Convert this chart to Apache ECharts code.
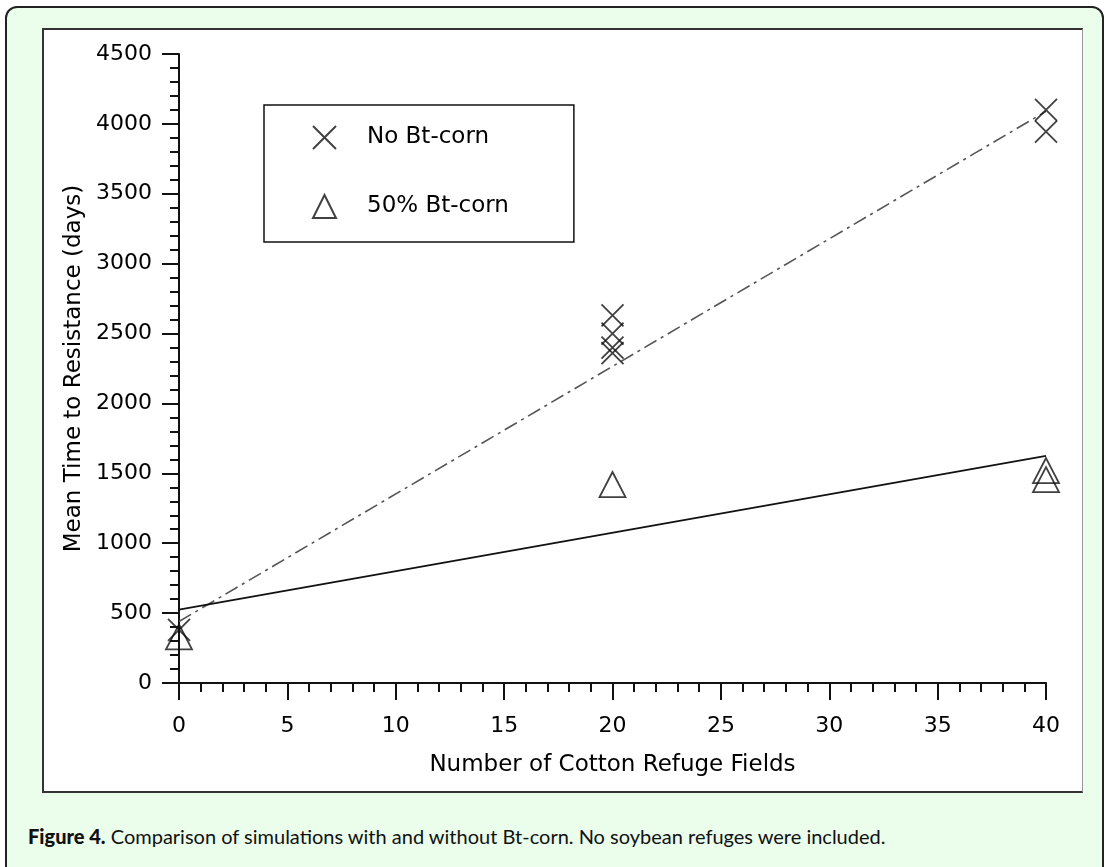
<!DOCTYPE html>
<html>
<head>
<meta charset="utf-8">
<script src="https://cdn.jsdelivr.net/npm/echarts@6/dist/echarts.min.js"></script>
<style>
  html, body { margin: 0; padding: 0; width: 1109px; height: 867px; overflow: hidden; background: #ffffff; }
  #frame { position: absolute; left: 5px; top: 6px; width: 1099px; height: 920px; background: #ebfdeb;
           border: 2px solid #222; border-radius: 12px; box-sizing: border-box; }
  #panel { position: absolute; left: 42px; top: 28px; width: 1041px; height: 765px; background: #fff;
           border-left: 2px solid #333; border-top: 2px solid #333; border-bottom: 2px solid #333; border-right: 1.5px solid #999; box-sizing: border-box; }
  #caption { position: absolute; left: 28px; top: 824px; font-family: Lato, "Open Sans", sans-serif; font-size: 20px; color: #111; white-space: nowrap; }
  #caption b { font-weight: 900; }
  #chart { position: absolute; left: 0; top: 0; width: 1109px; height: 867px; }
</style>
</head>
<body>
<div id="frame"></div>
<div id="panel"></div>
<div id="caption"><b>Figure 4.</b> Comparison of simulations with and without Bt-corn. No soybean refuges were included.</div>
<div id="chart"></div>
<script>
// ---- data ----
const noBtX = [0, 20, 20, 20, 20, 40, 40];
const noBtY = [380, 2630, 2500, 2400, 2360, 4100, 3945];
const bt50X = [0, 20, 40, 40];
const bt50Y = [330, 1420, 1520, 1455];
const fitX = [0, 40];
const noBtFitY = [440, 4090];
const bt50FitY = [525, 1625];
const xTicks = [0, 5, 10, 15, 20, 25, 30, 35, 40];
const yTicks = [0, 500, 1000, 1500, 2000, 2500, 3000, 3500, 4000, 4500];
const seriesNames = ['No Bt-corn', '50% Bt-corn'];

const zip = (xs, ys) => xs.map((x, i) => [x, ys[i]]);
const FONT = 'DejaVu Sans';
const xPath = 'path://M0,0L20,20M20,0L0,20';

const chart = echarts.init(document.getElementById('chart'), null, { renderer: 'canvas' });
chart.setOption({
  animation: false,
  backgroundColor: 'transparent',
  grid: { left: 179, right: 63, top: 54, bottom: 184, containLabel: false },
  legend: {
    data: seriesNames,
    orient: 'vertical',
    left: 264, top: 105,
    padding: [20, 65, 23, 48],
    itemGap: 44,
    itemWidth: 23, itemHeight: 23,
    borderColor: '#111', borderWidth: 1.5,
    backgroundColor: '#fff',
    textStyle: { fontFamily: FONT, fontSize: 23, color: '#000', padding: [0, 0, 0, 26] },
    selectedMode: false
  },
  xAxis: {
    type: 'value', min: 0, max: 40, interval: 5,
    name: 'Number of Cotton Refuge Fields', nameLocation: 'middle', nameGap: 71,
    nameTextStyle: { fontFamily: FONT, fontSize: 23, color: '#000' },
    axisLine: { show: true, onZero: false, lineStyle: { color: '#111', width: 2 } },
    axisTick: { show: true, inside: false, length: 17, lineStyle: { color: '#111', width: 2 } },
    minorTick: { show: true, splitNumber: 5, length: 9, lineStyle: { color: '#111', width: 2 } },
    axisLabel: { margin: 32, fontFamily: FONT, fontSize: 22, color: '#000',
                 formatter: v => xTicks.includes(v) ? String(v) : '' },
    splitLine: { show: false }
  },
  yAxis: {
    type: 'value', min: 0, max: 4500, interval: 500,
    name: 'Mean Time to Resistance (days)', nameLocation: 'middle', nameGap: 89,
    nameTextStyle: { fontFamily: FONT, fontSize: 23, color: '#000' },
    axisLine: { show: true, onZero: false, lineStyle: { color: '#111', width: 2 } },
    axisTick: { show: true, inside: false, length: 17, lineStyle: { color: '#111', width: 2 } },
    minorTick: { show: true, splitNumber: 5, length: 9, lineStyle: { color: '#111', width: 2 } },
    axisLabel: { margin: 27, fontFamily: FONT, fontSize: 22, color: '#000',
                 formatter: v => yTicks.includes(v) ? String(v) : '' },
    splitLine: { show: false }
  },
  series: [
    {
      name: 'No Bt-corn fit', type: 'line', data: zip(fitX, noBtFitY),
      showSymbol: false, symbol: 'none', silent: true,
      lineStyle: { color: '#555', width: 1.6, type: [14, 5, 3, 5] }, z: 2
    },
    {
      name: '50% Bt-corn fit', type: 'line', data: zip(fitX, bt50FitY),
      showSymbol: false, symbol: 'none', silent: true,
      lineStyle: { color: '#111', width: 1.6, type: 'solid' }, z: 2
    },
    {
      name: seriesNames[0], type: 'scatter', data: zip(noBtX, noBtY),
      symbol: xPath, symbolSize: 22,
      itemStyle: { color: 'rgba(0,0,0,0)', borderColor: '#111', borderWidth: 1.8 }, z: 3
    },
    {
      name: seriesNames[1], type: 'scatter', data: zip(bt50X, bt50Y),
      symbol: 'triangle', symbolSize: [26, 25],
      itemStyle: { color: 'rgba(0,0,0,0)', borderColor: '#111', borderWidth: 1.8 }, z: 3
    }
  ]
});
</script>
</body>
</html>
